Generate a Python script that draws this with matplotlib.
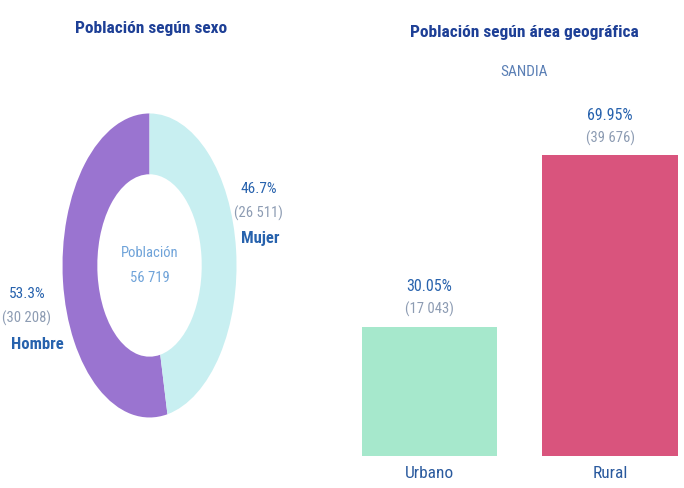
import matplotlib
matplotlib.use("Agg")
import matplotlib.pyplot as plt
from matplotlib import font_manager

# condensed face if there is one, else plain DejaVu
names = {f.name for f in font_manager.fontManager.ttflist}
cond = [n for n in ["Liberation Sans Narrow", "DejaVu Sans Condensed", "Roboto Condensed"] if n in names]
plt.rcParams['font.family'] = cond + ['DejaVu Sans']
plt.rcParams['font.stretch'] = 'condensed'

# donut data
sexo = ["Hombre", "Mujer"]
sexo_pct = [53.3, 46.7]
sexo_n = ["30 208", "26 511"]
total = "56 719"

# bar data
area = ["Urbano", "Rural"]
area_pct = [30.05, 69.95]
area_n = ["17 043", "39 676"]

col_sexo = ["#9a74d0", "#c8eff1"]
col_area = ["#a6e8cc", "#d9547d"]
navy = "#1d3f96"
blue = "#2762ad"
grey = "#8d9cb3"

fig = plt.figure(figsize=(6.84, 4.88), dpi=100)

# ---- donut (elliptical, like the scan)
ax1 = fig.add_axes([0.0914, 0.1445, 0.2544, 0.623])
ax1.pie(sexo_pct, colors=col_sexo, startangle=90, counterclock=True,
        radius=1, wedgeprops=dict(width=0.4, edgecolor="none"))
ax1.set_aspect("auto")
ax1.set_xlim(-1, 1)
ax1.set_ylim(-1, 1)
ax1.axis("off")

ax1.text(0, 0.08, "Población", ha="center", va="center", fontsize=10.5, color="#6fa3d9")
ax1.text(0, -0.08, total, ha="center", va="center", fontsize=10.5, color="#6fa3d9")

# Mujer labels (right)
ax1.text(1.25, 0.50, f"{sexo_pct[1]}%", ha="center", va="center", fontsize=11, color=blue)
ax1.text(1.25, 0.345, f"({sexo_n[1]})", ha="center", va="center", fontsize=10.5, color=grey)
ax1.text(1.27, 0.18, sexo[1], ha="center", va="center", fontsize=12, color=blue, fontweight="bold")
# Hombre labels (left)
ax1.text(-1.41, -0.19, f"{sexo_pct[0]}%", ha="center", va="center", fontsize=11, color=blue)
ax1.text(-1.41, -0.35, f"({sexo_n[0]})", ha="center", va="center", fontsize=10.5, color=grey)
ax1.text(-1.29, -0.52, sexo[0], ha="center", va="center", fontsize=12, color=blue, fontweight="bold")

fig.text(151 / 684, 1 - 28 / 488, "Población según sexo", ha="center", va="center",
         fontsize=12.5, fontweight="bold", color=navy)

# ---- bars
ax2 = fig.add_axes([0.496, 0.0656, 0.5278, 0.705])
x = range(len(area))
ax2.bar(x, area_pct, width=0.75, color=col_area)
ax2.set_xlim(-0.5, 1.5)
ax2.set_ylim(0, 80)
for s in ax2.spines.values():
    s.set_visible(False)
ax2.set_yticks([])
ax2.set_xticks(list(x))
ax2.set_xticklabels(area, fontsize=12.5, color="#2a5a9e")
ax2.tick_params(axis="x", length=0, pad=7)

for i, (p, n) in enumerate(zip(area_pct, area_n)):
    ax2.annotate(f"{p:.2f}%", (i, p), xytext=(0, 40), textcoords="offset pixels",
                 ha="center", va="center", fontsize=11.5, color=blue)
    ax2.annotate(f"({n})", (i, p), xytext=(0, 17), textcoords="offset pixels",
                 ha="center", va="center", fontsize=10.5, color=grey)

fig.text(524 / 684, 1 - 32 / 488, "Población según área geográfica", ha="center", va="center",
         fontsize=12.5, fontweight="bold", color=navy)
fig.text(524 / 684, 1 - 72 / 488, "SANDIA", ha="center", va="center",
         fontsize=11, color="#5a7fb5")

fig.savefig("out.png", dpi=100)
